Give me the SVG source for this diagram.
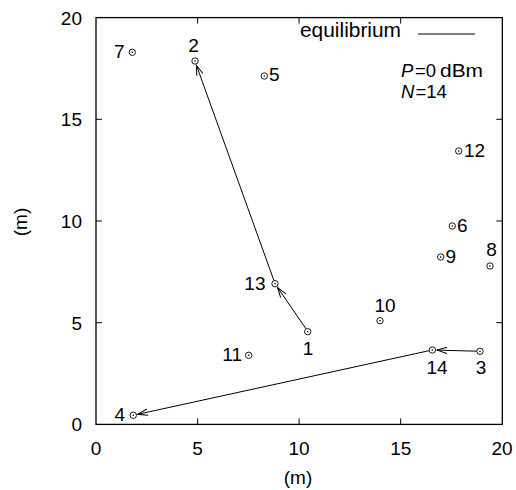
<svg xmlns="http://www.w3.org/2000/svg" width="516" height="490" viewBox="0 0 516 490">
<style>
text{font-family:"Liberation Sans",Arial,Helvetica,sans-serif;font-size:19px;fill:#000}
.tick{stroke:#000;stroke-width:1}
.pt circle.o{fill:none;stroke:#000;stroke-width:0.9}
.pt circle.d{fill:#000}
.mid{text-anchor:middle}
.end{text-anchor:end}
.it{font-style:italic}
.lg{font-size:20px}
.lg2{font-size:18.5px}
.conn line{stroke:#000;stroke-width:1;marker-end:url(#ah)}
</style>
<defs>
<marker id="ah" markerUnits="userSpaceOnUse" markerWidth="14" markerHeight="10" refX="0" refY="0" viewBox="-12 -5 14 10" orient="auto" overflow="visible">
<path d="M-10,-3.2 L0,0 L-10,3.2" fill="none" stroke="#000" stroke-width="1"/>
</marker>
</defs>
<rect width="516" height="490" fill="#fff"/>
<g id="axes">
<rect x="96" y="17.6" width="406.3" height="406.8" fill="none" stroke="#000" stroke-width="1.3"/>
<path class="tick" d="M197.6,424.4v-6M299.1,424.4v-6M400.7,424.4v-6M197.6,17.6v6M299.1,17.6v6M400.7,17.6v6M96,322.7h6M96,221h6M96,119.3h6M502.3,322.7h-6M502.3,221h-6M502.3,119.3h-6"/>
<text class="mid" x="96" y="455">0</text>
<text class="mid" x="197.6" y="455">5</text>
<text class="mid" x="299.1" y="455">10</text>
<text class="mid" x="400.7" y="455">15</text>
<text class="mid" x="502" y="455">20</text>
<text class="end" x="82" y="431">0</text>
<text class="end" x="82" y="329.5">5</text>
<text class="end" x="82" y="228">10</text>
<text class="end" x="82" y="126">15</text>
<text class="end" x="82" y="24.5">20</text>
<text class="mid" x="298" y="484">(m)</text>
<text class="mid" transform="translate(27,222) rotate(-90)">(m)</text>
</g>
<g id="legend">
<text class="lg" x="300" y="37" textLength="101" lengthAdjust="spacingAndGlyphs">equilibrium</text>
<line x1="418" y1="34" x2="475" y2="34" stroke="#000" stroke-width="1"/>
<text class="lg2"><tspan class="it" x="401" y="77">P</tspan><tspan x="415" y="77">=0</tspan><tspan x="440" y="77" textLength="43" lengthAdjust="spacingAndGlyphs">dBm</tspan></text>
<text class="lg2"><tspan class="it" x="401" y="98">N</tspan><tspan x="415.5" y="98">=14</tspan></text>
</g>
<g id="connectors" class="conn">
<line x1="306" y1="328.8" x2="277.6" y2="287.5"/>
<line x1="273.9" y1="280.5" x2="196.4" y2="65.2"/>
<line x1="476.6" y1="351.2" x2="437" y2="350.1"/>
<line x1="429" y1="350.7" x2="137.7" y2="414.3"/>
</g>
<g id="n1" class="pt"><circle class="o" cx="307.7" cy="331.7" r="3.2"/><circle class="d" cx="307.7" cy="331.7" r="0.8"/><text class="mid" x="308" y="355">1</text></g>
<g id="n2" class="pt"><circle class="o" cx="195" cy="61" r="3.2"/><circle class="d" cx="195" cy="61" r="0.8"/><text class="mid" x="193.5" y="52">2</text></g>
<g id="n3" class="pt"><circle class="o" cx="480" cy="351.3" r="3.2"/><circle class="d" cx="480" cy="351.3" r="0.8"/><text class="mid" x="481" y="373.5">3</text></g>
<g id="n4" class="pt"><circle class="o" cx="133.3" cy="415.3" r="3.2"/><circle class="d" cx="133.3" cy="415.3" r="0.8"/><text class="end" x="125" y="421">4</text></g>
<g id="n5" class="pt"><circle class="o" cx="264.3" cy="76" r="3.2"/><circle class="d" cx="264.3" cy="76" r="0.8"/><text x="269" y="81">5</text></g>
<g id="n6" class="pt"><circle class="o" cx="452.3" cy="226" r="3.2"/><circle class="d" cx="452.3" cy="226" r="0.8"/><text x="457" y="231.5">6</text></g>
<g id="n7" class="pt"><circle class="o" cx="132.3" cy="52.3" r="3.2"/><circle class="d" cx="132.3" cy="52.3" r="0.8"/><text class="end" x="124.5" y="57.5">7</text></g>
<g id="n8" class="pt"><circle class="o" cx="490" cy="266" r="3.2"/><circle class="d" cx="490" cy="266" r="0.8"/><text class="mid" x="491.5" y="256">8</text></g>
<g id="n9" class="pt"><circle class="o" cx="440.7" cy="257" r="3.2"/><circle class="d" cx="440.7" cy="257" r="0.8"/><text x="445.5" y="262.5">9</text></g>
<g id="n10" class="pt"><circle class="o" cx="380" cy="320.7" r="3.2"/><circle class="d" cx="380" cy="320.7" r="0.8"/><text class="mid" x="385" y="312">10</text></g>
<g id="n11" class="pt"><circle class="o" cx="248.7" cy="355.3" r="3.2"/><circle class="d" cx="248.7" cy="355.3" r="0.8"/><text class="end" x="242" y="361">11</text></g>
<g id="n12" class="pt"><circle class="o" cx="458.7" cy="151" r="3.2"/><circle class="d" cx="458.7" cy="151" r="0.8"/><text x="464" y="156.5">12</text></g>
<g id="n13" class="pt"><circle class="o" cx="275" cy="283.7" r="3.2"/><circle class="d" cx="275" cy="283.7" r="0.8"/><text class="end" x="265.5" y="289.5">13</text></g>
<g id="n14" class="pt"><circle class="o" cx="432.3" cy="350" r="3.2"/><circle class="d" cx="432.3" cy="350" r="0.8"/><text class="mid" x="437" y="373.5">14</text></g>
</svg>
